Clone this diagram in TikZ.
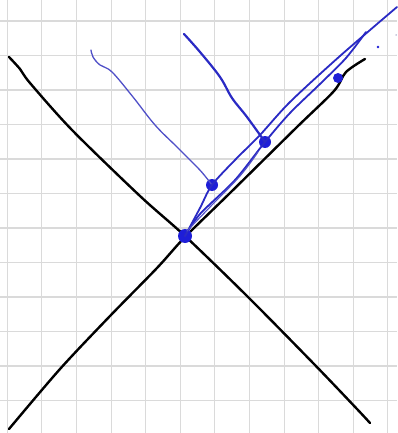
\documentclass[tikz,border=0pt]{standalone}
\begin{document}
\begin{tikzpicture}[x=1pt,y=-1pt,
  gridline/.style={draw={rgb,255:red,218;green,218;blue,218},line width=1.1pt},
  blackpen/.style={draw=black,line width=2.4pt,line cap=round,line join=round},
  bluepen/.style={draw={rgb,255:red,42;green,42;blue,196},line width=2.2pt,line cap=round,line join=round},
  thinblue/.style={draw={rgb,255:red,80;green,80;blue,200},line width=1.3pt,line cap=round,line join=round},
  dotbig/.style={circle,fill={rgb,255:red,30;green,30;blue,215},inner sep=0pt,minimum size=#1},
]
\useasboundingbox (0,0) rectangle (397,433);
\fill[white] (0,0) rectangle (397,433);
% grid
\foreach \k in {0,...,11} {
  \draw[gridline] ({7.3+34.6*\k},0) -- ({7.3+34.6*\k},433);
  \draw[gridline] (0,{21+34.5*\k}) -- (397,{21+34.5*\k});
}
% black X
\draw[blackpen] plot[smooth,tension=0.5] coordinates {(9,57) (20,69) (30,83) (72,130) (140,196) (185,236) (247,296) (314,364) (357,409) (370,423)};
\draw[blackpen] plot[smooth,tension=0.5] coordinates {(9,429) (60,369) (110,316) (157,268) (185,237) (230,193) (297,127) (334,91) (346,72) (365,59)};
% dots
\node[dotbig=14pt] (o) at (185,236) {};
\node[dotbig=12pt] (a) at (212,185) {};
\node[dotbig=12pt] (b) at (265,142) {};
\node[dotbig=10pt] (c) at (338,78) {};
\node[dotbig=2.8pt] (e) at (378,47) {};
\node[circle,fill={rgb,255:red,150;green,150;blue,190},inner sep=0pt,minimum size=1.5pt] (f) at (396,35) {};
% thin blue line from upper left into a
\draw[thinblue] plot[smooth,tension=0.6] coordinates {(91,50) (93,57) (100,65) (112,72) (133,97) (155,125) (177,147) (197,167) (205,176) (a.center)};
% thick blue line from top into b
\draw[bluepen] plot[smooth,tension=0.6] coordinates {(184,34) (200,52) (220,77) (232,98) (247,117) (b.center)};
% light rays from o
\draw[bluepen,line width=1.8pt] plot[smooth,tension=0.5] coordinates {(o.center) (200,208) (a.center) (235,160) (260,135) (290,102) (340,56) (397,7)};
\draw[bluepen,line width=1.8pt] plot[smooth,tension=0.5] coordinates {(o.center) (200,214) (235,180) (b.center) (290,113) (320,84) (346,58) (366,32)};
\draw[thinblue,line width=1.1pt] plot[smooth,tension=0.6] coordinates {(187,231) (210,207) (240,176) (258,152)};
\end{tikzpicture}
\end{document}
